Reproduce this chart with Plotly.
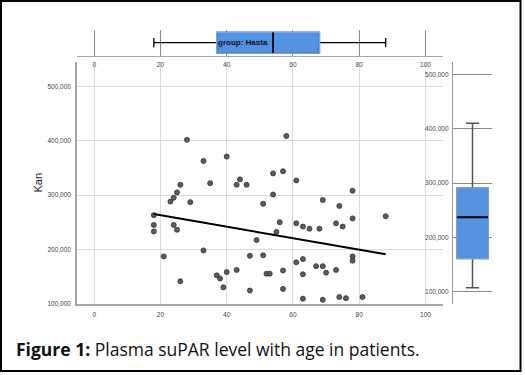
import plotly.graph_objects as go

# ---- data ----
age = [18, 18, 18, 21, 23, 24, 24, 25, 25, 26,
       26, 28, 29, 33, 33, 35, 37, 38, 39, 40,
       40, 43, 43, 44, 46, 47, 47, 49, 51, 51,
       52, 53, 54, 54, 55, 56, 57, 57, 57, 58,
       61, 61, 61, 63, 63, 63, 63, 65, 67, 68,
       69, 69, 69, 70, 73, 74, 74, 75, 76, 78,
       78, 78, 78, 73, 81, 88]
kan = [263000, 245000, 233000, 187000, 288000, 295000, 245000, 305000, 236000, 319000,
       141000, 402000, 287000, 363000, 198000, 322000, 152000, 146000, 130000, 371000,
       158000, 319000, 162000, 329000, 319000, 188000, 124000, 217000, 284000, 189000,
       155000, 155000, 340000, 301000, 232000, 250000, 344000, 161000, 127000, 409000,
       327000, 248000, 176000, 242000, 182000, 154000, 109000, 238000, 169000, 238000,
       291000, 169000, 107000, 157000, 248000, 280000, 112000, 242000, 110000, 308000,
       257000, 187000, 179000, 162000, 112000, 261000]

fit_age = [18, 88]
fit_kan = [265000, 191000]

# boxplot stats: [lowerfence, q1, median, q3, upperfence]
age_box = [18, 37, 54, 68, 88]
kan_box = [107000, 161000, 237000, 291000, 410000]

x_ticks = [0, 20, 40, 60, 80, 100]
y_ticks = [100000, 200000, 300000, 400000, 500000]
y_ticktext = ["100,000", "200,000", "300,000", "400,000", "500,000"]

group_label = "group: Hasta"
y_title = "Kan"
caption_bold = "Figure 1:"
caption_rest = " Plasma suPAR level with age in patients."

# ---- layout helpers (pixels -> paper) ----
W, H = 525, 375
def px(x):
    return x / W
def py(y):
    return 1 - y / H

BLUE = "#5592e2"
BLUE_EDGE = "#74a8ee"
GRID_LIGHT = "#d9d9d9"
GRID_DARK = "#8a8a8a"
AXIS = "#a8a8a8"
TICKFONT = dict(family="Liberation Sans, Arial, sans-serif", size=6.5, color="#444")

fig = go.Figure()

# scatter
fig.add_trace(go.Scatter(
    x=age, y=kan, mode="markers", xaxis="x", yaxis="y",
    marker=dict(size=5, color="#5c5c5c", line=dict(color="#2e2e2e", width=0.8)),
    showlegend=False, hoverinfo="skip"))
fig.add_trace(go.Scatter(
    x=fit_age, y=fit_kan, mode="lines", xaxis="x", yaxis="y",
    line=dict(color="black", width=2), showlegend=False, hoverinfo="skip"))

half = 0.4
# top horizontal box (age)
fig.add_trace(go.Box(
    y0=0, orientation="h",
    lowerfence=[age_box[0]], q1=[age_box[1]], median=[age_box[2]],
    q3=[age_box[3]], upperfence=[age_box[4]],
    xaxis="x2", yaxis="y2", width=2 * half, whiskerwidth=0.45,
    fillcolor=BLUE, line=dict(color="black", width=1.3),
    showlegend=False, hoverinfo="skip", boxpoints=False))
fig.add_trace(go.Scatter(
    x=[age_box[1], age_box[3], age_box[3], age_box[1], age_box[1]],
    y=[-half, -half, half, half, -half], mode="lines",
    xaxis="x2", yaxis="y2", line=dict(color=BLUE_EDGE, width=1.5),
    showlegend=False, hoverinfo="skip"))
fig.add_trace(go.Scatter(
    x=[age_box[2], age_box[2]], y=[-half, half], mode="lines",
    xaxis="x2", yaxis="y2", line=dict(color="black", width=1.5),
    showlegend=False, hoverinfo="skip"))

# right vertical box (kan)
fig.add_trace(go.Box(
    x0=0,
    lowerfence=[kan_box[0]], q1=[kan_box[1]], median=[kan_box[2]],
    q3=[kan_box[3]], upperfence=[kan_box[4]],
    xaxis="x3", yaxis="y3", width=2 * half, whiskerwidth=0.42,
    fillcolor=BLUE, line=dict(color="#555555", width=1.5),
    showlegend=False, hoverinfo="skip", boxpoints=False))
fig.add_trace(go.Scatter(
    y=[kan_box[1], kan_box[1], kan_box[3], kan_box[3], kan_box[1]],
    x=[-half, half, half, -half, -half], mode="lines",
    xaxis="x3", yaxis="y3", line=dict(color=BLUE_EDGE, width=1.5),
    showlegend=False, hoverinfo="skip"))
fig.add_trace(go.Scatter(
    y=[kan_box[2], kan_box[2]], x=[-half, half], mode="lines",
    xaxis="x3", yaxis="y3", line=dict(color="black", width=2),
    showlegend=False, hoverinfo="skip"))

xr = [-5.2, 105.3]
fig.update_layout(
    width=W, height=H, margin=dict(l=0, r=0, t=0, b=0),
    paper_bgcolor="white", plot_bgcolor="white",
    xaxis=dict(domain=[px(77), px(443)], range=xr, anchor="y",
               tickvals=x_ticks, showgrid=True, gridcolor=GRID_LIGHT, gridwidth=1.4,
               zeroline=False, showline=True, linecolor=AXIS, linewidth=1.8,
               ticks="", tickfont=TICKFONT, ticklabelstandoff=4, fixedrange=True),
    yaxis=dict(domain=[py(306), py(63)], range=[100000, 544500], anchor="x",
               tickvals=y_ticks, ticktext=y_ticktext,
               showgrid=True, gridcolor=GRID_LIGHT, gridwidth=1.4,
               zeroline=False, showline=True, linecolor=AXIS, linewidth=1.5,
               ticks="", tickfont=TICKFONT, ticklabelstandoff=3, fixedrange=True),
    xaxis2=dict(domain=[px(77), px(443)], range=xr, anchor="y2",
                tickvals=x_ticks, showgrid=True, gridcolor=GRID_DARK, gridwidth=1.2,
                zeroline=False, showline=True, linecolor=AXIS, linewidth=1.3,
                ticks="", tickfont=TICKFONT, ticklabelstandoff=2, fixedrange=True),
    yaxis2=dict(domain=[py(56), py(30)], range=[-0.5, 0.5], anchor="x2",
                visible=False, fixedrange=True),
    xaxis3=dict(domain=[px(453), px(492)], range=[-0.5, 0.5], anchor="y3",
                visible=False, fixedrange=True),
    yaxis3=dict(domain=[py(306), py(63)], range=[78100, 521900], anchor="x3",
                tickvals=y_ticks, ticktext=y_ticktext,
                showgrid=True, gridcolor=GRID_DARK, gridwidth=1.3,
                zeroline=False, showline=True, linecolor="#999999", linewidth=1.3,
                ticks="", tickfont=TICKFONT, ticklabelstandoff=2, fixedrange=True),
    annotations=[
        dict(text="<b>" + group_label + "</b>", x=age_box[2] - 0.8, y=0, xref="x2", yref="y2",
             xanchor="right", yanchor="middle", showarrow=False,
             font=dict(family="Liberation Sans, Arial, sans-serif", size=8, color="#111")),
        dict(text=y_title, x=px(38), y=py(184), xref="paper", yref="paper",
             textangle=-90, showarrow=False, xanchor="center", yanchor="middle",
             font=dict(family="Liberation Sans, Arial, sans-serif", size=11, color="#222")),
        dict(text="<b>" + caption_bold + "</b>" + caption_rest,
             x=px(14), y=py(352), xref="paper", yref="paper",
             xanchor="left", yanchor="middle", showarrow=False,
             font=dict(family="Open Sans, sans-serif", size=17.5, color="#111")),
    ],
    shapes=[
        dict(type="rect", xref="paper", yref="paper",
             x0=px(1), x1=px(520.5), y0=py(374), y1=py(1),
             line=dict(color="black", width=2), fillcolor="rgba(0,0,0,0)"),
    ],
)

fig.write_html(
    "out.html",
    config={"displayModeBar": False},
    post_script="document.body.style.margin='0';document.body.style.overflow='hidden';",
)
